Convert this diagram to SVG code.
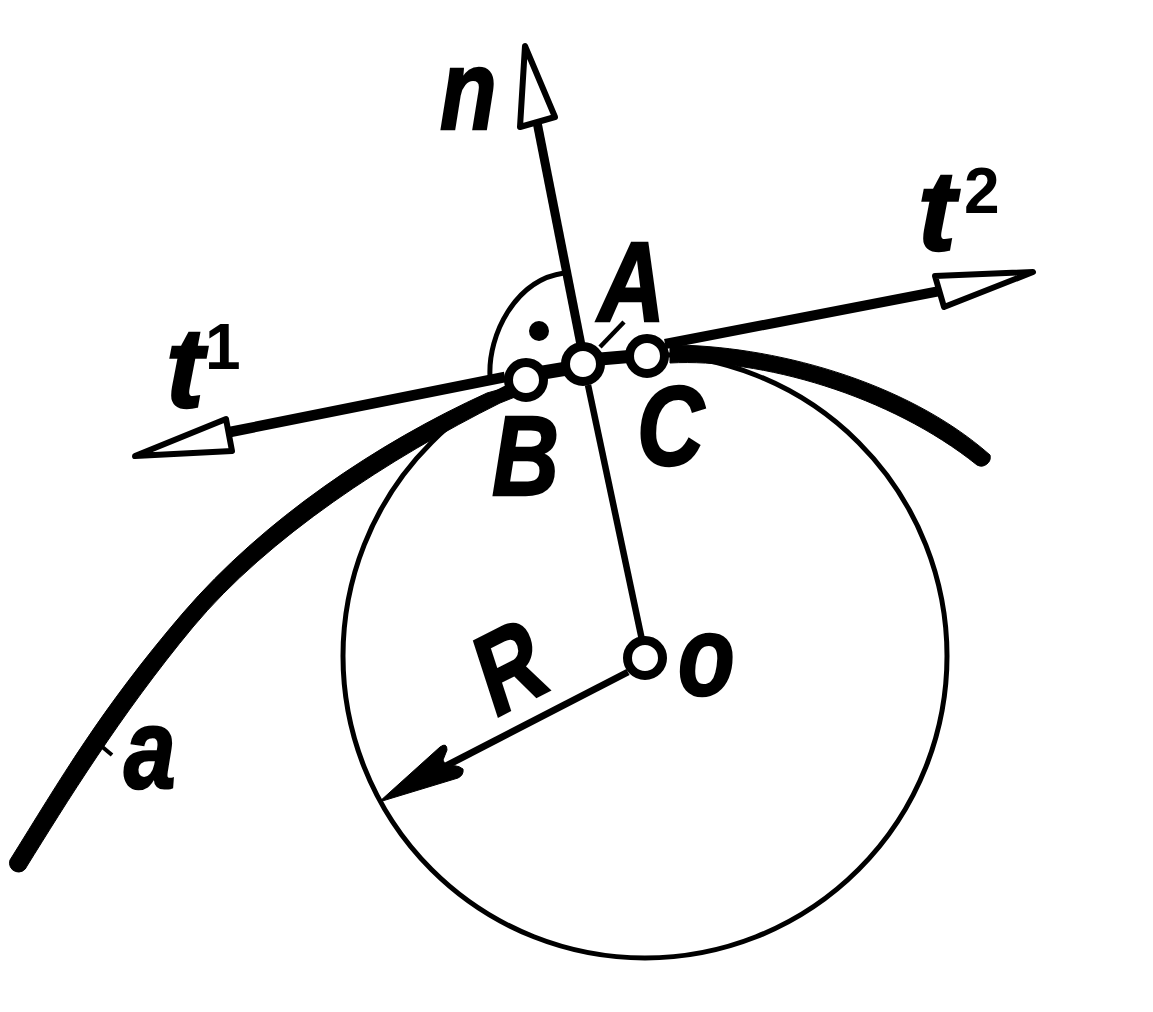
<svg xmlns="http://www.w3.org/2000/svg" width="1153" height="1012" viewBox="0 0 1153 1012">
<style>
.ln{fill:none;stroke:#000}
.fillk{fill:#000;stroke:#000;stroke-width:1;stroke-linejoin:round}
.pt{fill:#fff;stroke:#000;stroke-width:9}
.head{fill:#fff;stroke:#000;stroke-width:6;stroke-linejoin:round}
.lab{font-family:"Liberation Sans",Arial,sans-serif;font-weight:bold;font-style:italic;font-size:113px;fill:#000;stroke:#000;stroke-width:2.5}
.sup{font-family:"Liberation Sans",Arial,sans-serif;font-weight:bold;font-size:64px;fill:#000}
</style>
<rect width="1153" height="1012" fill="#fff"/>
<g id="connectors">
<circle class="ln" stroke-width="5" cx="645" cy="656" r="302"/>
<path class="fillk" d="M10 860C60 780 100 710 183 613C263 520 377 443 487 393L515 385L515 397L500 403C390 458 268 537 193 627C120 715 65 805 27 866A9 9 0 0 1 10 860Z"/>
<path class="fillk" d="M670 345C770 345 905 380 990 455A9 9 0 0 1 977 465C890 395 760 358 670 363Z"/>
<path class="ln" stroke-width="10.5" d="M230 432L505 377"/>
<path class="ln" stroke-width="10" d="M665 344L940 291"/>
<path class="ln" stroke-width="9" d="M537 122L581 345"/>
<path class="ln" stroke-width="6.5" d="M588 385L642 640"/>
<path class="ln" stroke-width="7" d="M628 672L440 769"/>
<path class="fillk" d="M379 802L440 747Q447 742 447 750L443 760L447 768Q455 763 463 769Q464 775 458 778Z"/>
<path class="head" d="M525 46L520 127L555 117Z"/>
<path class="head" d="M1033 272L935 276L944 307Z"/>
<path class="head" d="M135 456L226 419L232 451Z"/>
<path class="ln" stroke-width="5" d="M490 376C488 335 515 280 564 273"/>
<circle cx="539" cy="331" r="10" fill="#000"/>
<path class="ln" stroke-width="4.5" d="M600 347L624 322"/>
<path class="ln" stroke-width="4" d="M100 745L112 755"/>
<path class="ln" stroke-width="14" d="M540 373L570 368"/>
<path class="ln" stroke-width="13" d="M600 359L635 356"/>
</g>
<g id="node-B"><circle class="pt" cx="526" cy="380" r="17.5"/></g>
<g id="node-A"><circle class="pt" cx="583" cy="364" r="17.5"/></g>
<g id="node-C"><circle class="pt" cx="647" cy="356" r="17.5"/></g>
<g id="node-o"><circle class="pt" cx="645" cy="658" r="17.5"/></g>
<g id="labels">
<text class="lab" transform="translate(440,129) scale(.82,1)">n</text>
<text class="lab" transform="translate(598,321) scale(.82,1)">A</text>
<text class="lab" transform="translate(492,495) scale(.82,1)">B</text>
<text class="lab" transform="translate(637,465) scale(.82,1)">C</text>
<text class="lab" transform="translate(678,695) scale(.82,1)">o</text>
<text class="lab" transform="translate(124,788) scale(.82,1)">a</text>
<text class="lab" transform="translate(493,719) rotate(-27) skewX(-9) scale(.8,1)" style="font-style:normal">R</text>
<text class="lab" transform="translate(166,407)">t</text>
<text class="sup" x="205" y="369">1</text>
<text class="lab" transform="translate(918,250)">t</text>
<text class="sup" x="964" y="213">2</text>
</g>
</svg>
